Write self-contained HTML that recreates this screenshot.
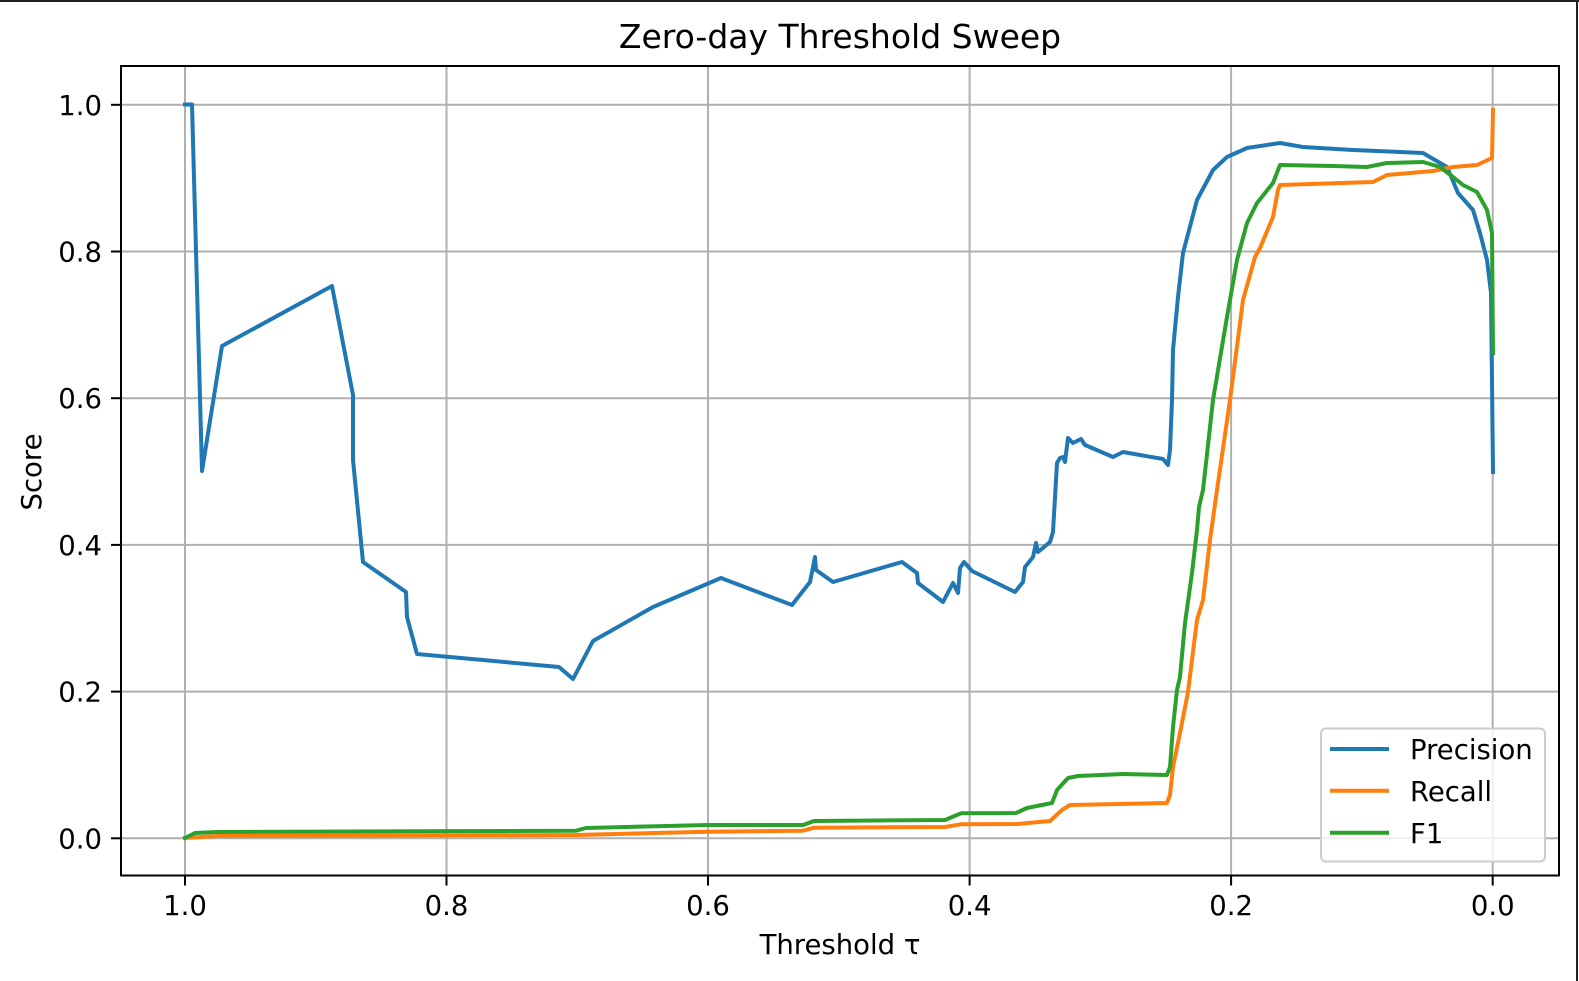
<!DOCTYPE html>
<html>
<head>
<meta charset="utf-8">
<style>
  html, body { margin: 0; padding: 0; background: #ffffff; }
  svg { display: block; }
  text { font-family: "DejaVu Sans", "Liberation Sans", sans-serif; fill: #000; }
</style>
</head>
<body>
<svg width="1579" height="981" viewBox="0 0 1579 981" xmlns="http://www.w3.org/2000/svg">
  <rect x="0" y="0" width="1579" height="981" fill="#ffffff"/>
  <!-- outer border (top, right) -->
  <rect x="0" y="0" width="1579" height="2" fill="#222"/>
  <rect x="1576" y="0" width="2" height="981" fill="#222"/>

  <!-- title -->
  <text x="840" y="48" font-size="33" text-anchor="middle">Zero-day Threshold Sweep</text>

  <!-- grid -->
  <g stroke="#b0b0b0" stroke-width="2" fill="none">
    <line x1="185" y1="66" x2="185" y2="875"/>
    <line x1="446.5" y1="66" x2="446.5" y2="875"/>
    <line x1="708" y1="66" x2="708" y2="875"/>
    <line x1="969.6" y1="66" x2="969.6" y2="875"/>
    <line x1="1231.1" y1="66" x2="1231.1" y2="875"/>
    <line x1="1492.7" y1="66" x2="1492.7" y2="875"/>
    <line x1="121" y1="838.3" x2="1559" y2="838.3"/>
    <line x1="121" y1="691.6" x2="1559" y2="691.6"/>
    <line x1="121" y1="544.9" x2="1559" y2="544.9"/>
    <line x1="121" y1="398.2" x2="1559" y2="398.2"/>
    <line x1="121" y1="251.5" x2="1559" y2="251.5"/>
    <line x1="121" y1="104.8" x2="1559" y2="104.8"/>
  </g>

  <!-- series -->
  <g fill="none" stroke-width="4" stroke-linejoin="round" stroke-linecap="square">
    <polyline stroke="#1f77b4" points="185,104.5 192,104.5 202,471 222,346 332,286 353,395 353,460 363,562 406,592 407,617 417,654 559,667 573,679 593,641 653,607 721,578 792,605 810,582 815,557 816,570 833,582 902,562 917,573 918,583 943,602 953,583 958,593 960,568 964,562 972,571 1015,592 1023,582 1025,567 1033,557 1036,543 1038,552 1050,542 1053,532 1057,463 1060,458 1063,457 1065,462 1068,438 1073,443 1081,439 1085,445 1113,457 1123,452 1163,459 1168,465 1170,450 1172,400 1173,350 1178,297 1183,253 1197,200 1213,170 1227,157 1247,148 1280,143 1303,147 1353,150 1400,152 1423,153 1447,167 1458,193 1473,210 1480,233 1487,260 1491,293 1493,472"/>
    <polyline stroke="#ff7f0e" points="185,838 217,836 576,835 708,831.7 803,830.7 814,827.7 945,827 961,824.3 1017,824 1050,821 1062,810 1070,805 1167,803 1170,795 1173,767 1180,733 1188,692 1197,620 1203,600 1210,540 1217,490 1230,400 1243,300 1255,257 1260,248 1273,217 1278,190 1280,185 1373,182 1387,175 1433,171 1453,167 1477,165 1492,158 1493,110"/>
    <polyline stroke="#2ca02c" points="185,838 195,833 217,832 576,830.7 586,828 708,825 803,825 814,821 945,820 961,813.3 1016,813 1027,808 1052,803 1057,790 1068,778 1078,776 1123,774 1167,775 1170,767 1173,727 1177,690 1180,677 1185,623 1192,573 1197,530 1199,507 1203,490 1213,400 1227,317 1237,260 1247,223 1257,203 1273,183 1280,165 1333,166 1367,167 1387,163 1423,162 1440,167 1453,177 1463,185 1477,192 1487,210 1492,233 1493,353"/>
  </g>

  <!-- spines -->
  <rect x="121" y="66" width="1438" height="809.5" fill="none" stroke="#000" stroke-width="2"/>

  <!-- ticks -->
  <g stroke="#000" stroke-width="2">
    <line x1="185" y1="875.5" x2="185" y2="885.5"/>
    <line x1="446.5" y1="875.5" x2="446.5" y2="885.5"/>
    <line x1="708" y1="875.5" x2="708" y2="885.5"/>
    <line x1="969.6" y1="875.5" x2="969.6" y2="885.5"/>
    <line x1="1231.1" y1="875.5" x2="1231.1" y2="885.5"/>
    <line x1="1492.7" y1="875.5" x2="1492.7" y2="885.5"/>
    <line x1="111" y1="838.3" x2="121" y2="838.3"/>
    <line x1="111" y1="691.6" x2="121" y2="691.6"/>
    <line x1="111" y1="544.9" x2="121" y2="544.9"/>
    <line x1="111" y1="398.2" x2="121" y2="398.2"/>
    <line x1="111" y1="251.5" x2="121" y2="251.5"/>
    <line x1="111" y1="104.8" x2="121" y2="104.8"/>
  </g>

  <!-- x tick labels -->
  <g font-size="27.5" text-anchor="middle">
    <text x="185" y="915">1.0</text>
    <text x="446.5" y="915">0.8</text>
    <text x="708" y="915">0.6</text>
    <text x="969.6" y="915">0.4</text>
    <text x="1231.1" y="915">0.2</text>
    <text x="1492.7" y="915">0.0</text>
  </g>
  <!-- y tick labels -->
  <g font-size="27.5" text-anchor="end">
    <text x="102" y="848.3">0.0</text>
    <text x="102" y="701.6">0.2</text>
    <text x="102" y="554.9">0.4</text>
    <text x="102" y="408.2">0.6</text>
    <text x="102" y="261.5">0.8</text>
    <text x="102" y="114.8">1.0</text>
  </g>

  <!-- axis labels -->
  <text x="840" y="954" font-size="27.5" text-anchor="middle">Threshold τ</text>
  <text transform="translate(41,472) rotate(-90)" font-size="27.5" text-anchor="middle">Score</text>

  <!-- legend -->
  <rect x="1321" y="728.5" width="224" height="133" rx="5" ry="5" fill="#ffffff" fill-opacity="0.8" stroke="#cccccc" stroke-width="2"/>
  <g stroke-width="4" fill="none">
    <line x1="1330" y1="749" x2="1389" y2="749" stroke="#1f77b4"/>
    <line x1="1330" y1="790.7" x2="1389" y2="790.7" stroke="#ff7f0e"/>
    <line x1="1330" y1="832.7" x2="1389" y2="832.7" stroke="#2ca02c"/>
  </g>
  <g font-size="27.5">
    <text x="1410" y="759">Precision</text>
    <text x="1410" y="801">Recall</text>
    <text x="1410" y="843">F1</text>
  </g>
</svg>
</body>
</html>
